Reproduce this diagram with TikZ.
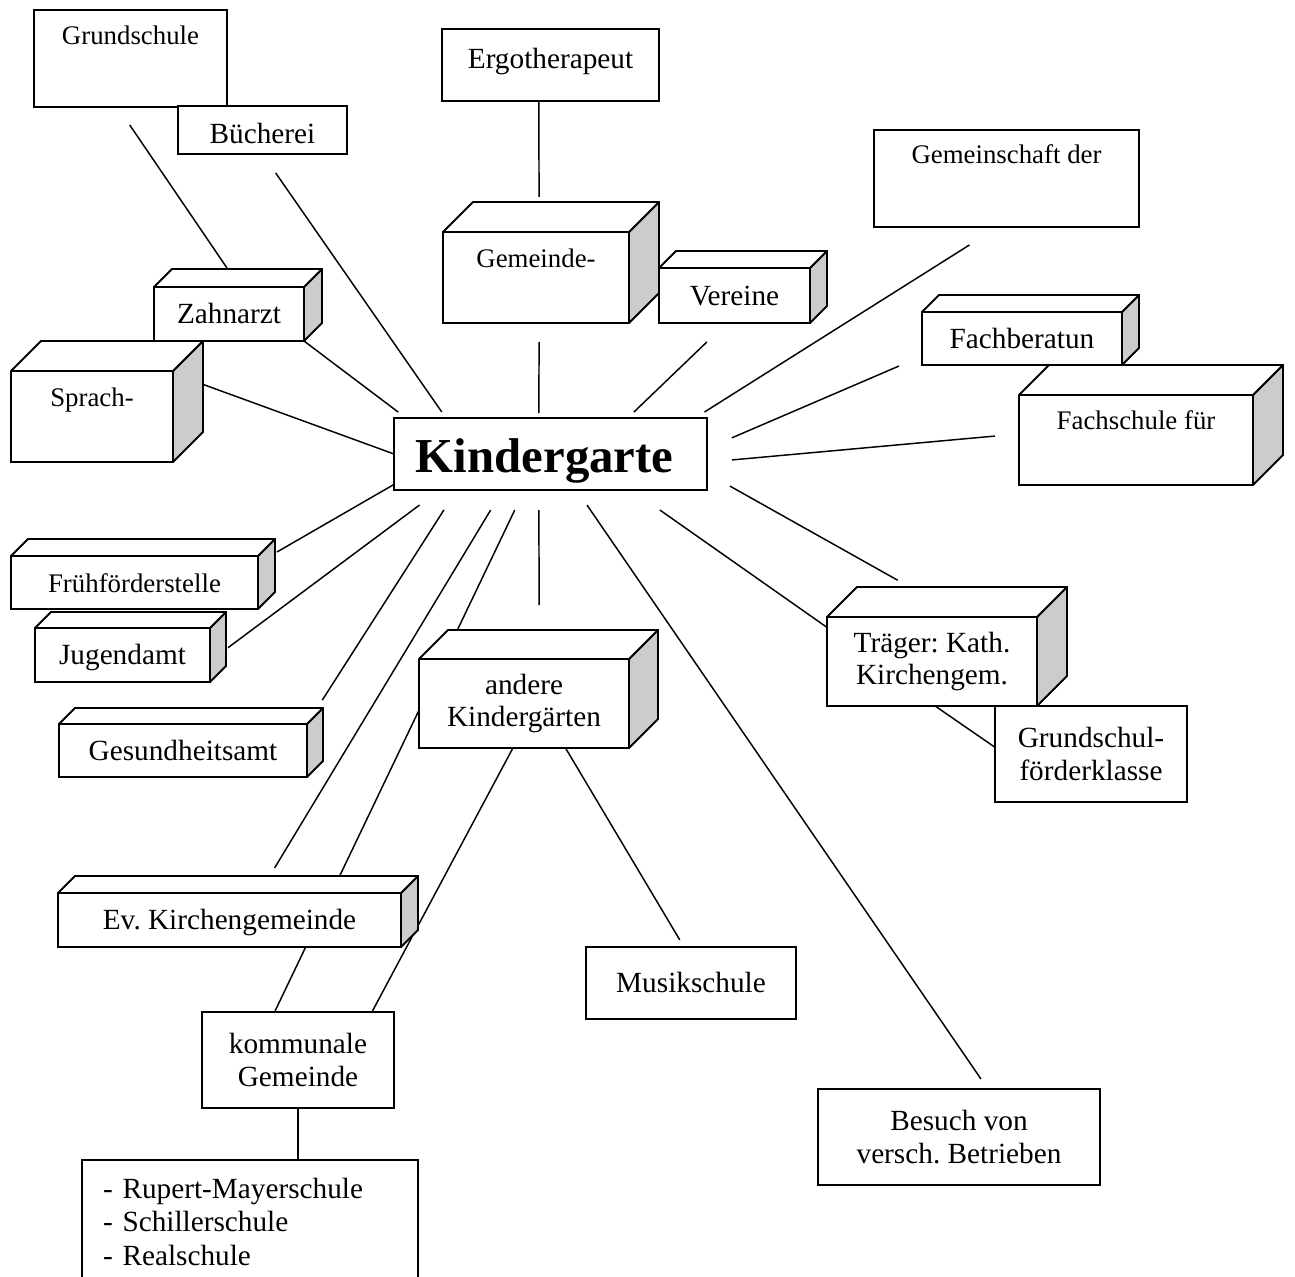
\documentclass[tikz,border=0pt]{standalone}
\usepackage{fontspec}
\setmainfont{Liberation Serif}
\usetikzlibrary{backgrounds}
\frenchspacing

\begin{document}
\begin{tikzpicture}[x=0.41pt, y=-0.41pt,
    kasten/.style={draw, line width=0.8pt, fill=white, inner sep=0pt, outer sep=0pt,
      align=center, font=\fontsize{12}{13.5}\selectfont},
    klein/.style={font=\fontsize{11}{13}\selectfont},
    groesse/.style 2 args={minimum width=#1*0.41pt, minimum height=#2*0.41pt},
    zeile/.style={text height=8pt, text depth=0pt},
    oben/.style={text height=8pt, text depth=#1},
    linie/.style={line width=0.6pt},
    seite/.style={draw, line width=0.8pt, fill=gray!40, line join=round},
    deckel/.style={draw, line width=0.8pt, fill=white, line join=round}]
        \useasboundingbox (0,0) rectangle (1295,1276);

        % Obere Kaesten
        \node[kasten, klein, groesse={193}{97}, oben=19.1pt] (grund) at (130.5,58.5) {Grundschule};
        \node[kasten, groesse={169}{48}, text height=11.4pt, text depth=0pt] (buch) at (262.5,130) {Bücherei};
        \node[kasten, groesse={217}{72}, oben=5.5pt] (ergo) at (550.5,65) {Ergotherapeut};
        \node[kasten, klein, groesse={265}{97}, oben=19.9pt] (gemsch) at (1006.5,178.5) {Gemeinschaft der};

        % Quader oben
        \node[kasten, klein, groesse={186}{91}, oben=16.6pt] (gemeinde) at (536,277.5) {Gemeinde-};
        \node[kasten, zeile, groesse={151}{55}] (vereine) at (734.5,295.5) {Vereine};
        \node[kasten, zeile, groesse={150}{54}] (zahn) at (229,314) {Zahnarzt};
        \node[kasten, klein, groesse={162}{91}, oben=15.8pt] (sprach) at (92,416.5) {Sprach-};
        \node[kasten, zeile, groesse={200}{53}] (fachb) at (1022,338.5) {Fachberatun};
        \node[kasten, klein, groesse={234}{90}, oben=17pt] (fachs) at (1136,440) {Fachschule für};

        % Kindergarten
        \node[kasten, groesse={313}{72}, inner xsep=9pt, text width=110.3pt, align=left,
            text height=15.4pt, text depth=0pt, font=\fontsize{20}{24}\selectfont\bfseries]
            (kita) at (550.5,454) {Kindergarte};

        % Quader unten
        \node[kasten, klein, zeile, groesse={247}{53}] (frueh) at (134.5,582.5) {Frühförderstelle};
        \node[kasten, zeile, groesse={175}{54}] (jugend) at (122.5,655) {Jugendamt};
        \node[kasten, zeile, groesse={248}{53}] (gesund) at (183,750.5) {Gesundheitsamt};
        \node[kasten, groesse={210}{89}] (andere) at (524,703.5) {andere\\Kindergärten};
        \node[kasten, groesse={210}{89}] (traeger) at (932,661.5) {Träger: Kath.\\Kirchengem.};
        \node[kasten, groesse={192}{96}] (gsfk) at (1091,754) {Grundschul-\\förderklasse};
        \node[kasten, zeile, groesse={343}{54}] (evk) at (229.5,920) {Ev. Kirchengemeinde};

        % Untere Kaesten
        \node[kasten, zeile, groesse={210}{72}] (musik) at (691,983) {Musikschule};
        \node[kasten, groesse={192}{96}] (komm) at (298,1060) {kommunale\\Gemeinde};
        \node[kasten, groesse={282}{96}] (besuch) at (959,1137) {Besuch von\\versch. Betrieben};
        \node[kasten, anchor=north west, minimum width=336*0.41pt, inner xsep=8.6pt, inner ysep=7.4pt,
            text width=120.5pt, align=left, text depth=60pt, font=\fontsize{12}{13.7}\selectfont]
            (liste) at (82,1160) {- Rupert-Mayerschule\\- Schillerschule\\- Realschule};

        % Seiten und Deckel der Quader
        \foreach \kn/\tief in {zahn/18, sprach/30, gemeinde/30, vereine/17, fachb/17, fachs/30,
                frueh/17, jugend/16, gesund/16, andere/29, traeger/30, evk/17} {
            \draw[seite] (\kn.north east) -- ++(\tief,-\tief) -- ([shift={(\tief,-\tief)}]\kn.south east) -- (\kn.south east) -- cycle;
            \draw[deckel] (\kn.north west) -- ++(\tief,-\tief) -- ([shift={(\tief,-\tief)}]\kn.north east) -- (\kn.north east) -- cycle;
        }

        % Verbindungen
        \begin{pgfonlayer}{background}
            \draw[linie, shorten <=8.9pt, shorten >=9.4pt] (grund.-105) -- (zahn.68);
            \draw[linie, shorten <=9.5pt, shorten >=3pt] (buch.south) -- (kita.161);
            \draw[linie, shorten >=4pt] (zahn.south east) -- (kita.166);
            \draw[linie, shorten <=13.5pt] (sprach.28) -- (kita.west);
            \draw[linie, shorten >=14.4pt] (ergo.-108) -- (gemeinde.86);
            \draw[linie, shorten <=7.8pt, shorten >=2pt] (gemeinde.-86) -- (kita.108);
            \draw[linie, shorten <=11.2pt, shorten >=3.5pt] (vereine.-106) -- (kita.25);
            \draw[linie, shorten <=13.8pt, shorten >=4.6pt] (gemsch.-100) -- (kita.14);
            \draw[linie, shorten <=10.3pt, shorten >=11.1pt] (fachb.-170) -- (kita.2);
            \draw[linie, shorten <=9.9pt, shorten >=10.3pt] (fachs.177) -- (kita.-3);
            \draw[linie, shorten <=10.8pt, shorten >=30.8pt] (kita.-7) -- (traeger.55);
            \draw[linie, shorten <=14.3pt] (kita.-24) -- (traeger.162);
            \draw[linie] (traeger.-86) -- (gsfk.176);
            \draw[linie, shorten <=9pt] (frueh.9) -- (kita.-169);
            \draw[linie, shorten <=9.2pt, shorten >=10.3pt] (jugend.-4) -- (kita.-162);
            \draw[linie, shorten <=11.6pt, shorten >=9.7pt] (gesund.north east) -- (kita.-159);
            \draw[linie, shorten <=9.6pt, shorten >=12pt] (kita.-143) -- (evk.42);
            \draw[linie, shorten <=9.1pt] (kita.-126) -- (komm.116);
            \draw[linie, shorten <=8.2pt, shorten >=22.1pt] (kita.-108) -- (andere.71);
            \draw[linie, shorten <=7.5pt, shorten >=5pt] (kita.-54) -- (besuch.59);
            \draw[linie] (andere.-104) -- (komm.33);
            \draw[linie, shorten >=3.4pt] (andere.-47) -- (musik.101);
            \draw[linie] (komm.south) -- (komm.south |- liste.north);
        \end{pgfonlayer}
    \end{tikzpicture}
\end{document}
